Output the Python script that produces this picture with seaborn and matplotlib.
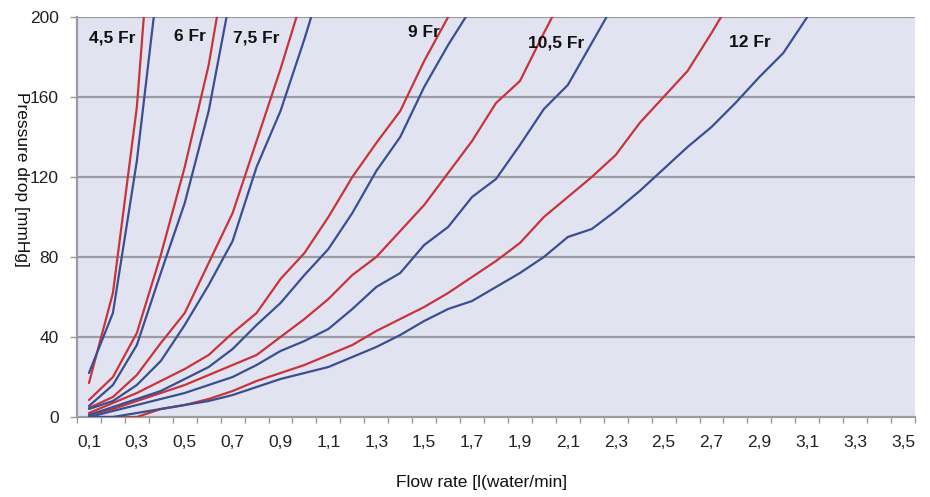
import matplotlib
matplotlib.use("Agg")
import matplotlib.pyplot as plt
import seaborn as sns
import pandas as pd
import numpy as np

# flow rate steps (l/min), one category per 0.1
flow = [round(0.1 * (i + 1), 1) for i in range(35)]
tick_labels = ["0,1", "0,3", "0,5", "0,7", "0,9", "1,1", "1,3", "1,5", "1,7",
               "1,9", "2,1", "2,3", "2,5", "2,7", "2,9", "3,1", "3,3", "3,5"]

# pressure drop readings (mmHg), red and blue curve per catheter size
red_45 = [17, 62, 155, 310]
blue_45 = [22, 52, 128, 230]
red_6 = [8.5, 20, 42, 81, 125, 176, 246]
blue_6 = [5.5, 16, 36, 72, 107, 153, 216]
red_75 = [4.5, 10, 21, 37, 52, 77, 102, 138, 174, 213]
blue_75 = [4, 8, 16, 28, 46, 66, 88, 125, 153, 189, 228]
red_9 = [2, 7, 12, 18, 24, 31, 42, 52, 69, 82, 100, 120, 137, 153, 178, 200, 225]
blue_9 = [1, 5, 9, 13, 19, 25, 34, 46, 57, 71, 84, 102, 123, 140, 165, 186, 205]
red_105 = [1, 4, 8, 12, 16, 21, 26, 31, 40, 49, 59, 71, 80, 93, 106, 122, 138,
           157, 168, 192, 215]
blue_105 = [0, 3, 6, 9, 12, 16, 20, 26, 33, 38, 44, 54, 65, 72, 86, 95, 110,
            119, 136, 154, 166, 187, 208]
red_12 = [0, 0, 0, 4, 6, 9, 13, 18, 22, 26, 31, 36, 43, 49, 55, 62, 70, 78, 87,
          100, 110, 120, 131, 147, 160, 173, 192, 212]
blue_12 = [0, 0, 2, 4, 6, 8, 11, 15, 19, 22, 25, 30, 35, 41, 48, 54, 58, 65, 72,
           80, 90, 94, 103, 113, 124, 135, 145, 157, 170, 182, 200, 222]

sizes = ["4,5 Fr", "6 Fr", "7,5 Fr", "9 Fr", "10,5 Fr", "12 Fr"]
reds = [red_45, red_6, red_75, red_9, red_105, red_12]
blues = [blue_45, blue_6, blue_75, blue_9, blue_105, blue_12]
label_x = [0.196, 0.522, 0.798, 1.499, 2.05, 2.86]
label_y = [189.5, 190, 189.5, 192, 187, 187]

rows = []
for name, r, b in zip(sizes, reds, blues):
    for i, v in enumerate(r):
        rows.append({"flow": flow[i], "pressure": v, "size": name, "kind": "red"})
    for i, v in enumerate(b):
        rows.append({"flow": flow[i], "pressure": v, "size": name, "kind": "blue"})
df = pd.DataFrame(rows)

sns.set_style("white")
plt.rcParams["font.family"] = ["Liberation Sans", "DejaVu Sans"]

fig = plt.figure(figsize=(9.3, 4.97), dpi=100)
ax = fig.add_axes([77 / 930, 80 / 497, 838 / 930, 400 / 497])
ax.set_facecolor("#e1e3f0")

grid_col = "#9a9ba3"
for g in [40, 80, 120, 160, 200]:
    ax.axhline(g, color=grid_col, lw=1.6, zorder=1)

sns.lineplot(data=df, x="flow", y="pressure", hue="kind", units="size",
             estimator=None, palette={"red": "#c8343b", "blue": "#3a4f92"},
             lw=1.6, legend=False, ax=ax, zorder=3)

for name, lx, ly in zip(sizes, label_x, label_y):
    ax.text(lx, ly, name, ha="center", va="center", fontsize=12.5,
            fontweight="bold", color="#111111", zorder=4)

ax.set_xlim(0.05, 3.55)
ax.set_ylim(0, 200)
ax.set_xticks(flow[::2])
ax.set_xticklabels(tick_labels)
ax.set_xticks([0.05 + 0.1 * k for k in range(36)], minor=True)
ax.tick_params(axis="x", which="major", length=0, pad=13, labelsize=12.5,
               labelcolor="#222222")
ax.tick_params(axis="x", which="minor", length=4, width=1, color=grid_col,
               direction="out")
ax.set_yticks([0, 40, 80, 120, 160, 200])
ax.tick_params(axis="y", length=5, width=1, color=grid_col, pad=8,
               labelsize=12.5, labelcolor="#222222")
ax.tick_params(bottom=True, left=True, which="both")

for s in ["top", "right"]:
    ax.spines[s].set_visible(False)
for s in ["left", "bottom"]:
    ax.spines[s].set_color(grid_col)
    ax.spines[s].set_linewidth(1.6)

ax.set_xlabel("")
ax.set_ylabel("")
fig.text(482 / 930, 1 - 483 / 497, "Flow rate [l(water/min]", ha="center",
         va="center", fontsize=12.5, color="#111111")
fig.text(21 / 930, 1 - 92 / 497, "Pressure drop [mmHg]", ha="center",
         va="top", rotation=-90, fontsize=12.5, color="#111111")

fig.savefig("out.png", dpi=100)
